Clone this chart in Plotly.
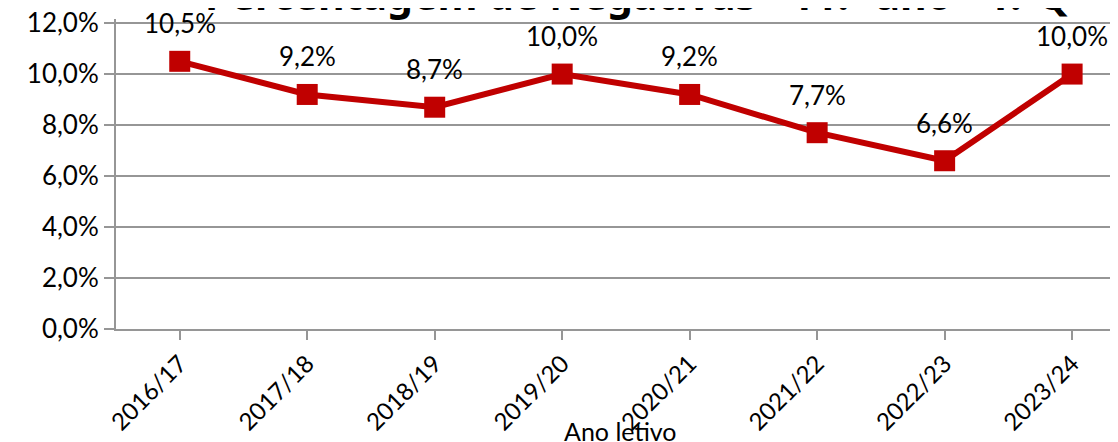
import plotly.graph_objects as go

anos = ["2016/17", "2017/18", "2018/19", "2019/20", "2020/21", "2021/22", "2022/23", "2023/24"]
negativas = [0.105, 0.092, 0.087, 0.100, 0.092, 0.077, 0.066, 0.100]
rotulos = ["10,5%", "9,2%", "8,7%", "10,0%", "9,2%", "7,7%", "6,6%", "10,0%"]
y_ticks = [0.0, 0.02, 0.04, 0.06, 0.08, 0.10, 0.12]

FONT = "Lato"
RED = "#C00000"
GREY = "#969696"

fig = go.Figure()
fig.add_trace(go.Scatter(
    x=list(range(len(anos))), y=negativas,
    mode="lines+markers",
    line=dict(color=RED, width=6),
    marker=dict(symbol="square", size=21, color=RED),
    hoverinfo="skip",
))

# top gridline (plotly drops the one right at the edge)
fig.add_hline(y=y_ticks[-1], line=dict(color=GREY, width=2), layer="above")

# data labels above the points
for i, (v, t) in enumerate(zip(negativas, rotulos)):
    fig.add_annotation(x=i, y=v, text=t, showarrow=False, yshift=38,
                       font=dict(family=FONT, size=26, color="black"))

# title, mostly cut off at the top like in the original
fig.add_annotation(text="<b>Percentagem de Negativas - 11.º ano - 1.ºQ</b>",
                   xref="paper", yref="paper", x=0.52, y=1.0,
                   xanchor="center", yanchor="bottom", yshift=-5, showarrow=False,
                   font=dict(family="Noto Sans", size=41, color="black"))

fig.add_annotation(text="Ano letivo", xref="paper", yref="paper", x=0.503, y=-0.33,
                   xanchor="center", yanchor="middle", showarrow=False,
                   font=dict(family=FONT, size=25, color="black"))

fig.update_layout(
    width=1118, height=442,
    margin=dict(l=108, r=8, t=11, b=121),
    paper_bgcolor="white", plot_bgcolor="white",
    separators=", ",
    showlegend=False,
    font=dict(family=FONT, size=24, color="black"),
    xaxis=dict(
        tickmode="array", tickvals=list(range(len(anos))), ticktext=anos,
        range=[-0.5, 7.36], tickangle=-45,
        showgrid=False, showline=True, linecolor=GREY, linewidth=2,
        ticks="outside", ticklen=9, tickcolor=GREY, tickwidth=2,
        tickfont=dict(family=FONT, size=24),
        zeroline=False, automargin=False,
    ),
    yaxis=dict(
        range=[0, 0.1216], tickmode="array", tickvals=y_ticks, tickformat=".1%",
        showgrid=True, gridcolor=GREY, gridwidth=2,
        showline=True, linecolor=GREY, linewidth=2,
        ticks="outside", ticklen=10, tickcolor=GREY, tickwidth=2,
        tickfont=dict(family=FONT, size=26), ticklabeloverflow="allow",
        zeroline=False, automargin=False,
    ),
)

fig.write_html("out.html")
